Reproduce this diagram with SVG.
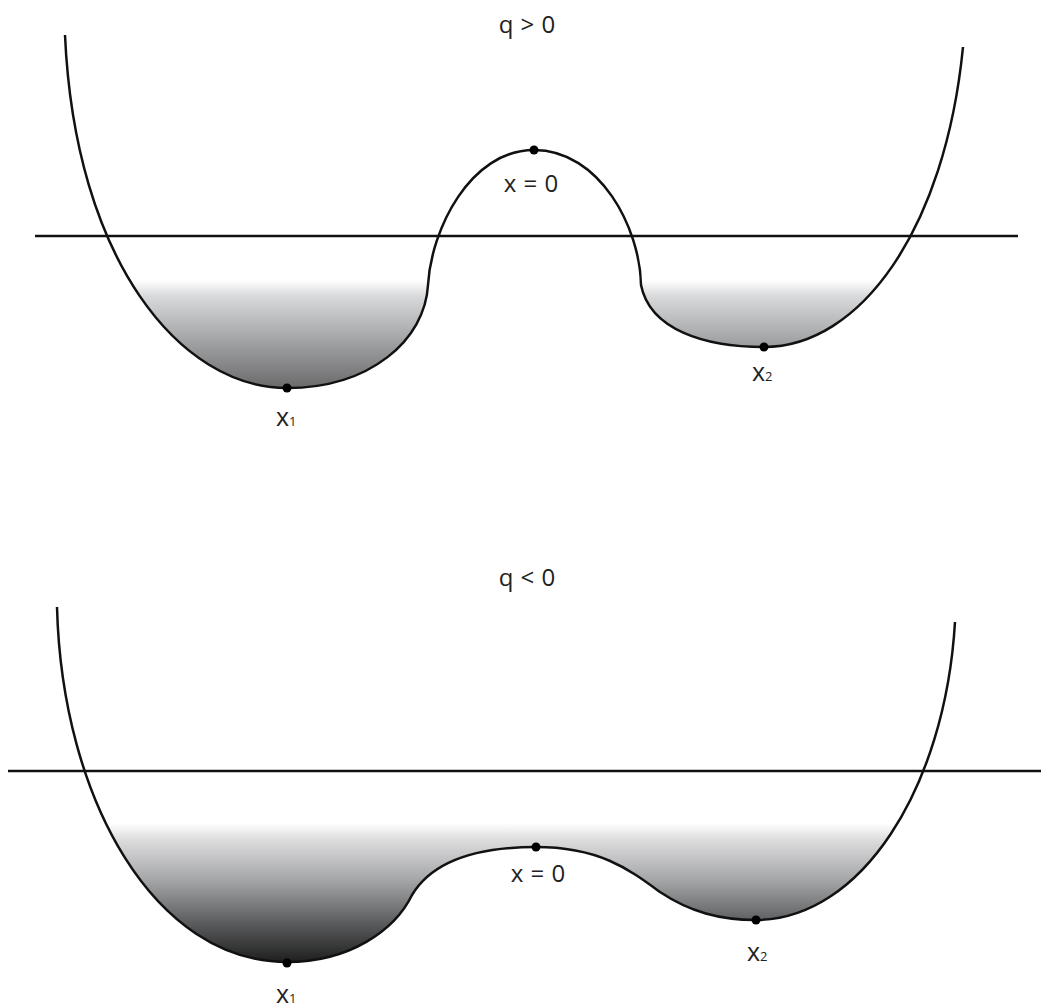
<svg xmlns="http://www.w3.org/2000/svg" width="1041" height="1008" viewBox="0 0 1041 1008">
<style>
.curve{fill:none;stroke:#111;stroke-width:2.5;stroke-linejoin:round}
.level{stroke:#111;stroke-width:2.5}
.dot{fill:#000}
text{font-family:"Open Sans","Liberation Sans",sans-serif;fill:#222}
.lbl{font-size:24px;word-spacing:1px}
.sub{font-size:13px}
</style>
<defs>
<linearGradient id="gTop" gradientUnits="userSpaceOnUse" x1="0" y1="280" x2="0" y2="390">
<stop offset="0" stop-color="#ffffff"/>
<stop offset="0.15" stop-color="#d8d9db"/>
<stop offset="0.5" stop-color="#a9aaac"/>
<stop offset="1" stop-color="#686869"/>
</linearGradient>
<linearGradient id="gBot" gradientUnits="userSpaceOnUse" x1="0" y1="823" x2="0" y2="965">
<stop offset="0" stop-color="#ffffff"/>
<stop offset="0.12" stop-color="#dcdcdd"/>
<stop offset="0.4" stop-color="#a5a6a8"/>
<stop offset="0.7" stop-color="#5c5d5f"/>
<stop offset="1" stop-color="#1a1a1a"/>
</linearGradient>
</defs>

<g id="top-panel">
<path id="top-fill" fill="url(#gTop)" d="M65,35 C75,260 180,388 287,388 C370,388 425,340 428,285 C431,230 470,150 534,150 C600,150 640,228 641,285 C650,330 705,347 764,347 C860,347 945,230 963,47 Z"/>
<line class="level" x1="35" y1="236" x2="1018" y2="236"/>
<path class="curve" d="M65,35 C75,260 180,388 287,388 C370,388 425,340 428,285 C431,230 470,150 534,150 C600,150 640,228 641,285 C650,330 705,347 764,347 C860,347 945,230 963,47"/>
<circle class="dot" cx="534" cy="150" r="4.5"/>
<circle class="dot" cx="287" cy="388" r="4.5"/>
<circle class="dot" cx="764" cy="347" r="4.5"/>
<text class="lbl" x="527" y="33" text-anchor="middle">q &gt; 0</text>
<text class="lbl" x="531" y="192" text-anchor="middle">x = 0</text>
<text x="276" y="426" font-size="25">x<tspan class="sub">1</tspan></text>
<text x="752" y="381" font-size="25">x<tspan class="sub">2</tspan></text>
</g>

<g id="bottom-panel">
<path id="bottom-fill" fill="url(#gBot)" d="M57,607 C62,800 155,962 287,962 C350,962 395,930 412,895 C430,865 470,847 536,847 C600,847 630,870 660,892 C690,912 720,920 756,920 C860,920 945,790 955,622 Z"/>
<line class="level" x1="8" y1="771" x2="1041" y2="771"/>
<path class="curve" d="M57,607 C62,800 155,962 287,962 C350,962 395,930 412,895 C430,865 470,847 536,847 C600,847 630,870 660,892 C690,912 720,920 756,920 C860,920 945,790 955,622"/>
<circle class="dot" cx="536" cy="847" r="4.5"/>
<circle class="dot" cx="287" cy="963" r="4.5"/>
<circle class="dot" cx="756" cy="920" r="4.5"/>
<text class="lbl" x="527" y="586" text-anchor="middle">q &lt; 0</text>
<text class="lbl" x="538" y="882" text-anchor="middle">x = 0</text>
<text x="276" y="1003" font-size="25">x<tspan class="sub">1</tspan></text>
<text x="747" y="961" font-size="25">x<tspan class="sub">2</tspan></text>
</g>
</svg>
